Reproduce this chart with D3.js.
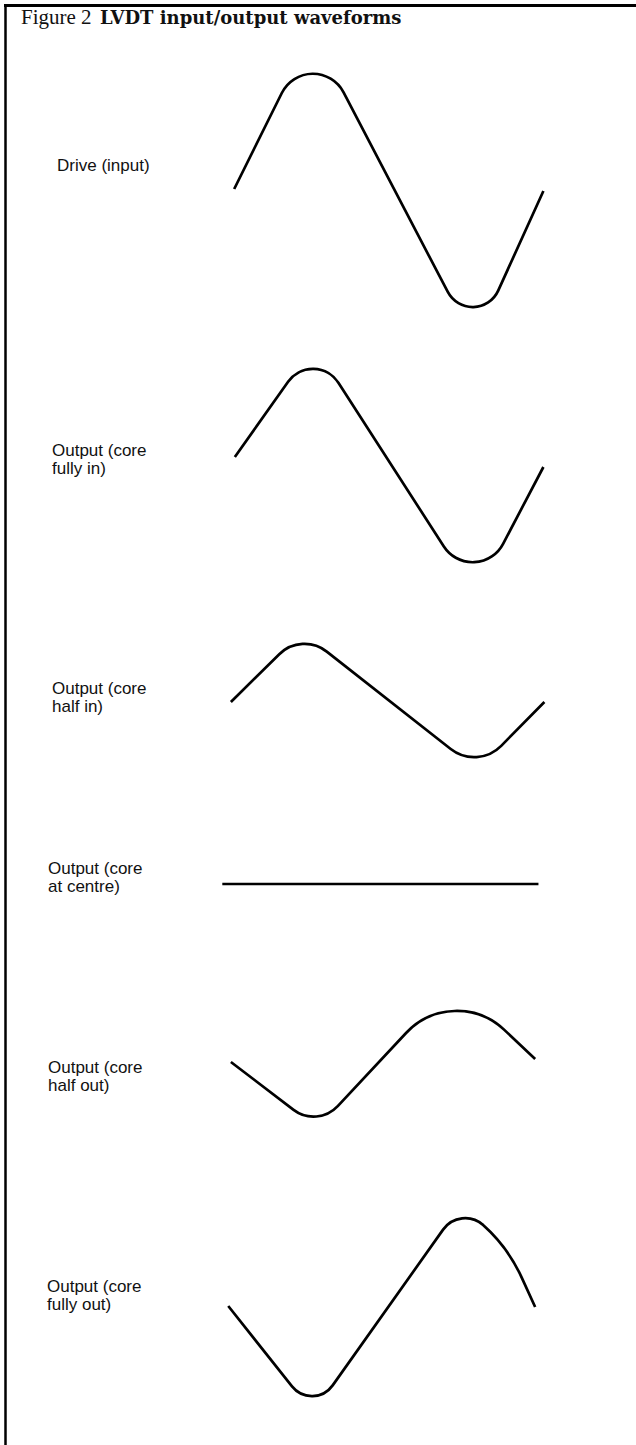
<!DOCTYPE html>
<html lang="en">
<head>
<meta charset="utf-8">
<title>LVDT input/output waveforms</title>
<script src="https://cdn.jsdelivr.net/npm/d3@7"></script>
<style>
  body { margin: 0; background: #fff; }
  .label { font-family: "Liberation Sans", Arial, sans-serif; font-size: 17px; fill: #111; }
  .wave { fill: none; stroke: #000; stroke-width: 2.7px; }
</style>
</head>
<body>
<script>
// panel captions, one array entry per line
const labelLines = [
  ["Drive (input)"],
  ["Output (core", "fully in)"],
  ["Output (core", "half in)"],
  ["Output (core", "at centre)"],
  ["Output (core", "half out)"],
  ["Output (core", "fully out)"]
];

// waveform corner points [time (0-100), amplitude (-1..1)]
// straight segments meet at these points, the corners get rounded
const driveIn  = [[4.3, 0.01], [27.9, 1.58], [77.1, -1.53], [98.0, -0.01]];
const fullyIn  = [[4.5, 0.09], [28.5, 1.21], [77.5, -1.30], [98.0, -0.01]];
const halfIn   = [[3.3, -0.02], [24.8, 0.68], [78.0, -0.70], [98.3, -0.02]];
const atCentre = [[0.7, 0.0], [96.5, 0.0]];
const halfOut  = [[3.3, 0.0], [29.5, -0.66], [70.8, 0.80], [95.5, 0.03]];
const fullyOut = [[2.5, 0.01], [28.2, -1.06], [72.9, 1.02], [87.2, 0.60], [95.5, 0.0]];

// rounding of each inner corner, in time units
const capRounding = [
  [10.5, 8.5],
  [9.2, 10.4],
  [10.9, 11.5],
  [],
  [10, 21],
  [7.7, 8.2, 48]
];

const waves = [driveIn, fullyIn, halfIn, atCentre, halfOut, fullyOut];

// layout
const w = 636, h = 1445;
const panelMid = [190, 466, 700, 884, 1062, 1307];
const labelX = [57, 52, 52, 48, 48, 47];
const labelY = [171, 456, 694, 874, 1073, 1292];
const lineGap = 18;

const svg = d3.select("body").append("svg")
  .attr("width", w)
  .attr("height", h);

// frame: only the top and left edges show in the crop
svg.append("line")
  .attr("x1", 4).attr("y1", 5.5).attr("x2", w).attr("y2", 5.5)
  .attr("stroke", "#000").attr("stroke-width", 3);
svg.append("line")
  .attr("x1", 5.5).attr("y1", 4).attr("x2", 5.5).attr("y2", h)
  .attr("stroke", "#000").attr("stroke-width", 2.5);

// title
const title = svg.append("text")
  .attr("x", 21).attr("y", 23.5)
  .attr("fill", "#111");
title.append("tspan")
  .attr("font-family", "'Liberation Serif', serif")
  .attr("font-size", 21)
  .text("Figure 2");
title.append("tspan")
  .attr("x", 100)
  .attr("font-family", "'DejaVu Serif', serif")
  .attr("font-weight", "bold")
  .attr("font-size", 18)
  .text("LVDT input/output waveforms");

const xScale = d3.scaleLinear().domain([0, 100]).range([220, 550]);

waves.forEach(function (pts, k) {
  const yScale = d3.scaleLinear()
    .domain([-1, 1])
    .range([panelMid[k] + 100, panelMid[k] - 100]);

  const p = d3.path();
  p.moveTo(xScale(pts[0][0]), yScale(pts[0][1]));
  for (let i = 1; i < pts.length - 1; i++) {
    const r = xScale(capRounding[k][i - 1]) - xScale(0);
    p.arcTo(xScale(pts[i][0]), yScale(pts[i][1]),
            xScale(pts[i + 1][0]), yScale(pts[i + 1][1]), r);
  }
  const last = pts[pts.length - 1];
  p.lineTo(xScale(last[0]), yScale(last[1]));

  svg.append("path")
    .attr("class", "wave")
    .attr("d", p.toString());
});

// captions
const labels = svg.selectAll("text.label")
  .data(labelLines)
  .enter()
  .append("text")
  .attr("class", "label")
  .attr("x", function (d, i) { return labelX[i]; })
  .attr("y", function (d, i) { return labelY[i]; });

labels.selectAll("tspan")
  .data(function (d, i) { return d.map(function (s) { return [s, i]; }); })
  .enter()
  .append("tspan")
  .attr("x", function (d) { return labelX[d[1]]; })
  .attr("dy", function (d, j) { return j === 0 ? 0 : lineGap; })
  .text(function (d) { return d[0]; });
</script>
</body>
</html>
